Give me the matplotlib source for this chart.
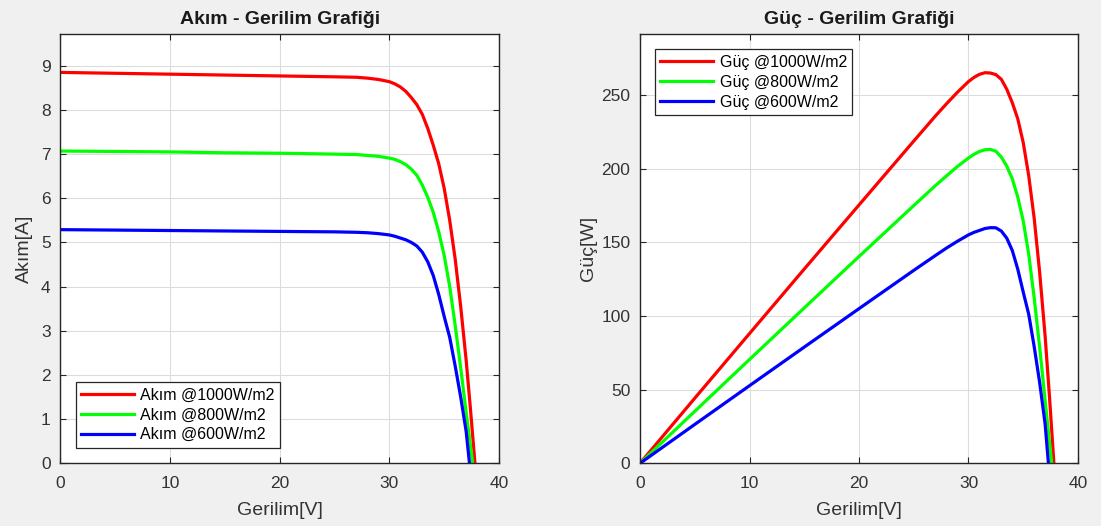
import matplotlib
matplotlib.use('Agg')
import matplotlib.pyplot as plt

# Voltage points [V] for each irradiance level
v_1000 = [0, 5, 10, 15, 20, 25, 27, 28, 29, 30, 30.5, 31, 31.5, 32, 32.5, 33, 33.5, 34, 34.5, 35, 35.5,
          36, 36.5, 37, 37.4, 37.8]
v_800 = [0, 5, 10, 15, 20, 25, 27, 28, 29, 30, 30.5, 31, 31.5, 32, 32.5, 33, 33.5, 34, 34.5, 35, 35.5,
         36, 36.5, 37, 37.6]
v_600 = [0, 5, 10, 15, 20, 25, 27, 28, 29, 30, 30.5, 31, 31.5, 32, 32.5, 33, 33.5, 34, 34.5, 35, 35.5,
         36, 36.5, 37, 37.3]

# Current [A]
i_1000 = [8.85, 8.83, 8.81, 8.79, 8.77, 8.75, 8.74, 8.72, 8.69, 8.64, 8.59, 8.52, 8.42, 8.28, 8.12, 7.90,
          7.58, 7.20, 6.78, 6.22, 5.50, 4.62, 3.55, 2.33, 1.20, 0.0]
i_800 = [7.07, 7.06, 7.05, 7.03, 7.02, 7.00, 6.99, 6.97, 6.95, 6.91, 6.88, 6.83, 6.76, 6.66, 6.52, 6.30,
         6.02, 5.68, 5.24, 4.70, 4.00, 3.12, 2.16, 1.15, 0.0]
i_600 = [5.29, 5.28, 5.27, 5.26, 5.25, 5.24, 5.23, 5.22, 5.20, 5.17, 5.14, 5.10, 5.06, 5.00, 4.92, 4.78,
         4.56, 4.25, 3.82, 3.32, 2.85, 2.20, 1.50, 0.72, 0.0]

# Power [W]
p_1000 = [0, 44.2, 88.1, 131.9, 175.4, 218.8, 236.0, 244.2, 252.0, 259.2, 262.0, 264.1, 265.2, 265.0,
          263.9, 260.7, 253.9, 244.8, 233.9, 217.7, 195.3, 166.3, 129.6, 86.2, 44.9, 0]
p_800 = [0, 35.3, 70.5, 105.5, 140.4, 175.0, 188.7, 195.2, 201.6, 207.3, 209.8, 211.7, 212.9, 213.1,
         211.9, 207.9, 201.7, 193.1, 180.8, 164.5, 142.0, 112.3, 78.8, 42.6, 0]
p_600 = [0, 26.4, 52.7, 78.9, 105.0, 131.0, 141.2, 146.2, 150.8, 155.1, 156.8, 158.1, 159.4, 160.0,
         159.9, 157.7, 152.8, 144.5, 131.8, 116.2, 101.2, 79.2, 54.8, 26.6, 0]

labels = ['@1000W/m2', '@800W/m2', '@600W/m2']
colors = ['#ff0000', '#00ff00', '#0000ff']

plt.rcParams['font.family'] = ['Liberation Sans', 'DejaVu Sans']

bg = '#f0f0f0'
fig = plt.figure(figsize=(11.01, 5.26), dpi=100, facecolor=bg)
ax1 = fig.add_axes([0.0548, 0.1192, 0.3985, 0.8162])
ax2 = fig.add_axes([0.5813, 0.1192, 0.3978, 0.8162])


def style(ax):
    ax.set_facecolor('white')
    ax.grid(True, color='#dcdcdc', linewidth=0.8)
    ax.set_axisbelow(True)
    for s in ax.spines.values():
        s.set_color('#262626')
        s.set_linewidth(1.0)
    ax.tick_params(direction='in', top=True, right=True, length=4,
                   color='#262626', labelsize=12.5, labelcolor='#333333', pad=7)
    ax.tick_params(axis='x', pad=9)
    ax.set_xlim(0, 40)
    ax.set_xticks([0, 10, 20, 30, 40])


# --- Akim - Gerilim ---
for v, i, c, lab in zip([v_1000, v_800, v_600], [i_1000, i_800, i_600], colors, labels):
    ax1.plot(v, i, color=c, lw=2.3, label='Akım ' + lab)
style(ax1)
ax1.set_ylim(0, 9.72)
ax1.set_yticks(range(0, 10))
ax1.set_title('Akım - Gerilim Grafiği', fontsize=14, fontweight='bold', color='#1a1a1a', pad=7)
ax1.set_xlabel('Gerilim[V]', fontsize=14, color='#333333', labelpad=8)
ax1.set_ylabel('Akım[A]', fontsize=14, color='#333333', labelpad=6)
leg1 = ax1.legend(loc='lower left', bbox_to_anchor=(0.035, 0.036), borderaxespad=0,
                  fontsize=11.5, fancybox=False, framealpha=1, edgecolor='#262626',
                  handlelength=3.3, handletextpad=0.4, borderpad=0.35, labelspacing=0.3)
leg1.get_frame().set_linewidth(0.9)

# --- Guc - Gerilim ---
for v, p, c, lab in zip([v_1000, v_800, v_600], [p_1000, p_800, p_600], colors, labels):
    ax2.plot(v, p, color=c, lw=2.3, label='Güç ' + lab)
style(ax2)
ax2.set_ylim(0, 291.5)
ax2.set_yticks([0, 50, 100, 150, 200, 250])
ax2.set_title('Güç - Gerilim Grafiği', fontsize=14, fontweight='bold', color='#1a1a1a', pad=7)
ax2.set_xlabel('Gerilim[V]', fontsize=14, color='#333333', labelpad=8)
ax2.set_ylabel('Güç[W]', fontsize=14, color='#333333', labelpad=3)
leg2 = ax2.legend(loc='upper left', bbox_to_anchor=(0.034, 0.964), borderaxespad=0,
                  fontsize=11.5, fancybox=False, framealpha=1, edgecolor='#262626',
                  handlelength=3.3, handletextpad=0.4, borderpad=0.35, labelspacing=0.3)
leg2.get_frame().set_linewidth(0.9)

fig.savefig('out.png', dpi=100, facecolor=bg)
